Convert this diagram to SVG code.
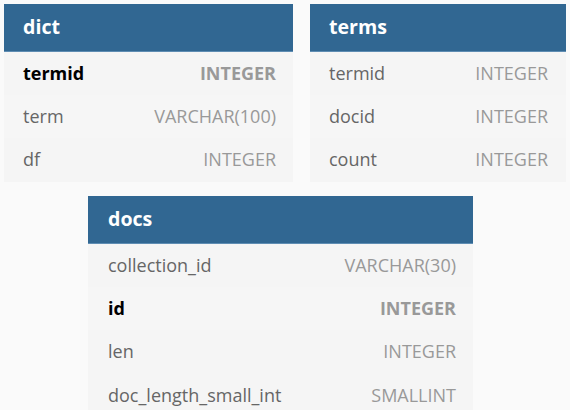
<svg xmlns="http://www.w3.org/2000/svg" width="570" height="410" viewBox="0 0 570 410">
<style>
.bg{fill:#fafafa}
.hdr{fill:#316792}
.hline{stroke:#5f8db3;stroke-width:1}
.row{fill:#f5f5f5}
.row2{fill:#f6f6f6}
.title{font-family:"Open Sans",sans-serif;font-weight:bold;font-size:19.6px;fill:#ffffff}
.f{font-family:"Open Sans",sans-serif;font-size:18px;fill:#666666}
.fk{font-family:"Open Sans",sans-serif;font-size:18px;font-weight:bold;fill:#000000}
.t{font-family:"Open Sans",sans-serif;font-size:18px;fill:#999999;text-anchor:end}
.tk{font-family:"Open Sans",sans-serif;font-size:18px;font-weight:bold;fill:#999999;text-anchor:end}
</style>
<rect class="bg" x="0" y="0" width="570" height="410"/>
<g id="connectors"></g>
<g id="dict">
<rect class="row" x="4" y="51" width="289" height="131"/>
<rect class="row2" x="4" y="95" width="289" height="43"/>
<rect class="hdr" x="4" y="4" width="289" height="47"/>
<line class="hline" x1="4" y1="51.5" x2="293" y2="51.5"/>
<text class="title" x="23" y="34">dict</text>
<text class="fk" x="23" y="80">termid</text><text class="tk" x="276" y="80">INTEGER</text>
<text class="f" x="23" y="123">term</text><text class="t" x="276" y="123">VARCHAR(100)</text>
<text class="f" x="23" y="166">df</text><text class="t" x="276" y="166">INTEGER</text>
</g>
<g id="terms">
<rect class="row" x="310" y="51" width="256" height="131"/>
<rect class="row2" x="310" y="95" width="256" height="43"/>
<rect class="hdr" x="310" y="4" width="256" height="47"/>
<line class="hline" x1="310" y1="51.5" x2="566" y2="51.5"/>
<text class="title" x="329" y="34">terms</text>
<text class="f" x="329" y="80">termid</text><text class="t" x="548" y="80">INTEGER</text>
<text class="f" x="329" y="123">docid</text><text class="t" x="548" y="123">INTEGER</text>
<text class="f" x="329" y="166">count</text><text class="t" x="548" y="166">INTEGER</text>
</g>
<g id="docs">
<rect class="row" x="88" y="243" width="385" height="175"/>
<rect class="row2" x="88" y="287" width="385" height="43"/>
<rect class="hdr" x="88" y="196" width="385" height="47"/>
<line class="hline" x1="88" y1="243.5" x2="473" y2="243.5"/>
<text class="title" x="108" y="226">docs</text>
<text class="f" x="108" y="272">collection_id</text><text class="t" x="456" y="272">VARCHAR(30)</text>
<text class="fk" x="108" y="315">id</text><text class="tk" x="456" y="315">INTEGER</text>
<text class="f" x="108" y="358">len</text><text class="t" x="456" y="358">INTEGER</text>
<text class="f" x="108" y="402">doc_length_small_int</text><text class="t" x="456" y="402">SMALLINT</text>
</g>
</svg>
